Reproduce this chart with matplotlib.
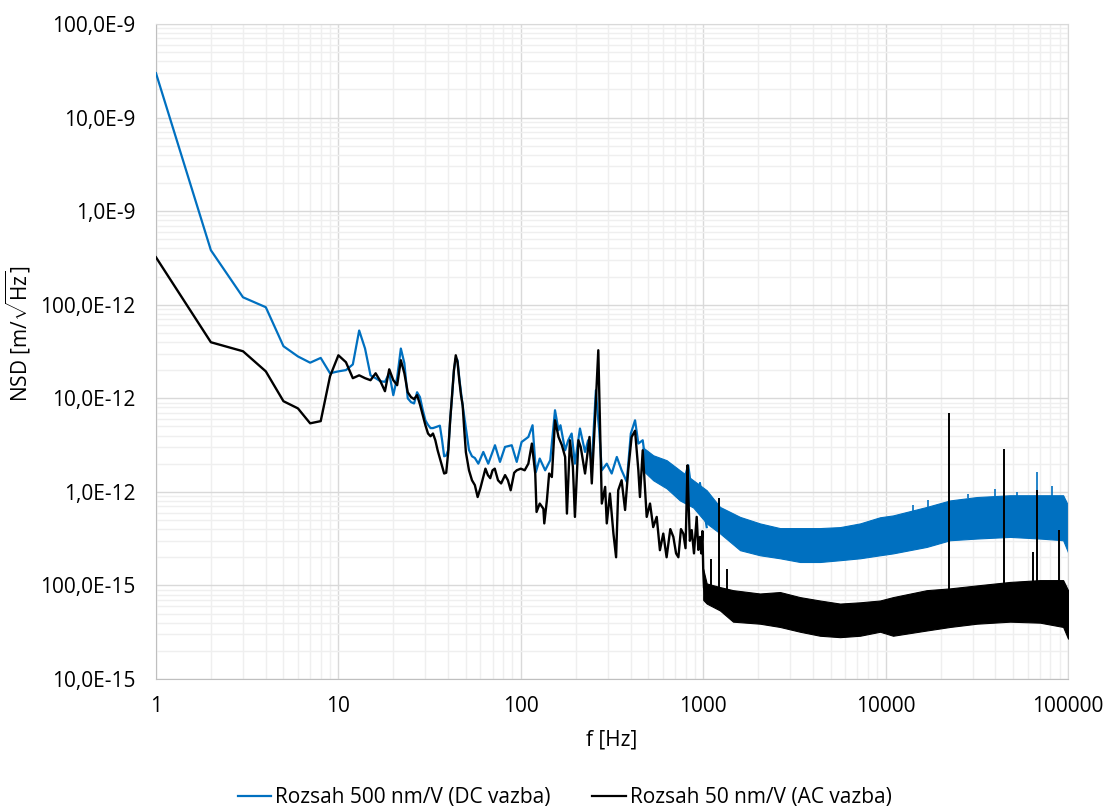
import matplotlib.pyplot as plt
from matplotlib.lines import Line2D
from matplotlib.ticker import LogLocator, NullFormatter

plt.rcParams['font.family'] = ['Open Sans', 'DejaVu Sans']
plt.rcParams['mathtext.fontset'] = 'custom'
plt.rcParams['mathtext.rm'] = 'Open Sans'

PM = 1e-12  # values below are in pm/sqrt(Hz)

BLUE = '#0070C0'
BLACK = '#000000'
FS = 15

# DC coupling, 500 nm/V range - resolved part of the spectrum
dc_f = [1, 2, 3, 4, 5, 6, 7, 8, 9, 10, 11, 12, 13, 14, 15, 16, 17, 18, 19, 20,
        21, 22, 23, 24, 25, 26, 27, 28, 29, 30, 31, 32, 33, 34, 35, 36, 37, 38, 39, 40,
        41, 42, 43, 44, 45, 46, 47, 48, 50, 52, 54, 56,
        58.5, 62.3, 66.3, 72.2, 76.9, 81.9, 89.2, 95, 101, 110,
        116, 121, 127, 136, 145, 154, 161, 165, 175, 182, 190, 198,
        211, 225, 234, 245, 258, 263, 269, 278, 296, 315,
        336, 357, 381, 401, 423, 441, 466, 490, 532, 579,
        630, 700, 745, 828, 882, 960, 1045]
dc_nsd = [29800, 382, 120, 94, 36, 28, 24, 27, 18.5, 19.4,
          20, 23, 53, 34, 17.6, 16.4, 15.2, 15, 18.5, 10.8,
          16.7, 34, 23.7, 10, 9.1, 8.8, 11.6, 10.3, 7.5, 5.8,
          5.2, 4.8, 4.8, 4.9, 5.0, 5.1, 3.6, 2.4, 2.45, 2.8,
          5.8, 10.5, 20, 26.8, 25.5, 16.4, 11.6, 8.4, 4.8, 2.8, 2.4, 2.3,
          2.0, 2.67, 2.0, 3.15, 2.09, 3.02, 3.15, 2.09, 3.41, 3.86,
          5.15, 1.63, 2.27, 1.70, 2.18, 7.45, 4.55, 5.15, 2.78, 3.56, 4.2, 2.0,
          4.75, 2.67, 3.56, 2.0, 12.2, 7.45, 4.55, 1.70, 2.0, 1.57,
          2.36, 1.70, 1.28, 4.2, 5.82, 3.28, 3.56, 1.70, 2.09, 1.44,
          1.23, 1.77, 0.96, 1.92, 0.75, 1.23, 0.42]

# DC coupling - dense noise floor, min/max envelope
dc_band_f = [466, 532, 630, 745, 882, 1045, 1236, 1592, 2047, 2635, 3393,
             4366, 5623, 7240, 9315, 10980, 16800, 22540, 31600, 48100, 70200,
             94000, 100000]
dc_band_hi = [3.0, 2.46, 2.18, 1.70, 1.33, 1.04, 0.69, 0.54, 0.46, 0.41, 0.41,
              0.41, 0.42, 0.46, 0.535, 0.56, 0.69, 0.81, 0.88, 0.92, 0.92,
              0.92, 0.72]
dc_band_lo = [1.70, 1.33, 1.09, 0.81, 0.68, 0.46, 0.36, 0.238, 0.21, 0.195, 0.178,
              0.178, 0.186, 0.195, 0.21, 0.22, 0.258, 0.304, 0.317, 0.33, 0.317,
              0.304, 0.226]

dc_spike_f = [960, 1225, 14190, 17150, 28400, 39800, 52300, 67300, 81400]
dc_spike_lo = [0.9, 0.6, 0.6, 0.65, 0.85, 0.9, 0.9, 0.9, 0.9]
dc_spike_hi = [1.28, 0.85, 0.72, 0.81, 0.96, 1.06, 1.0, 1.63, 1.15]

# AC coupling, 50 nm/V range - resolved part of the spectrum
ac_f = [1, 2, 3, 4, 5, 6, 7, 8, 9, 10, 11, 12, 13, 14, 15, 16, 17, 18, 19, 20,
        21, 22, 23, 24, 25, 26, 27, 28, 29, 30, 31, 32, 33, 34, 35, 36, 37, 38, 39, 40,
        41, 42, 43, 44, 45, 46, 47, 48, 49, 50,
        52, 54, 56, 58, 60, 62, 64, 66, 68, 70, 72, 75, 78, 82, 85, 88, 92, 95, 100, 105, 110,
        115, 120, 122, 127, 133, 134.5, 139, 143, 148, 154,
        161, 168, 175, 179, 186, 193, 198, 207, 213, 225,
        238, 245, 255, 266, 272, 278, 290, 296, 308, 322,
        333, 342, 357, 373, 388, 405, 423, 441, 450, 466,
        490, 511, 532, 556, 579, 604, 630, 660, 686, 710,
        731, 755, 778, 800, 820, 828, 845, 865, 890, 921,
        940, 960, 975, 990, 1000, 1010, 1030]
ac_nsd = [321, 39.7, 31.8, 19.4, 9.3, 7.8, 5.4, 5.7, 17.2, 28.8,
          24.3, 16.4, 17.6, 16.4, 15.6, 18.5, 15.2, 11.9, 20.4, 15.6,
          13.8, 25.5, 18.5, 11.6, 10.3, 9.8, 10.8, 8.6, 6.6, 5.15,
          4.2, 3.93, 4.2, 3.56, 2.78, 2.28, 1.87, 1.57, 1.6, 2.65,
          5.82, 10.8, 20, 28.8, 24.3, 15.6, 10.8, 8.4, 4.55, 2.65,
          1.70, 1.33, 1.18, 0.88, 1.09, 1.40, 1.77, 1.51, 1.40, 1.70,
          1.77, 1.33, 1.23, 1.51, 1.33, 1.04, 1.6, 1.70, 1.77, 1.70, 2.0,
          3.28, 1.57, 0.61, 0.75, 0.66, 0.46, 0.81, 1.57, 1.44, 5.82,
          3.86, 3.15, 2.36, 0.586, 3.56, 1.85, 0.54, 3.56, 3.02, 1.57,
          3.86, 1.23, 5.82, 32.6, 4.94, 0.75, 1.13, 0.46, 0.96, 0.358,
          0.20, 1.04, 1.33, 0.64, 1.70, 3.86, 4.5, 1.70, 0.88, 2.78,
          0.54, 0.75, 0.42, 0.54, 0.238, 0.358, 0.20, 0.40, 0.33, 0.22,
          0.20, 0.40, 0.358, 0.25, 1.92, 0.96, 0.30, 0.39, 0.22, 0.54,
          0.24, 0.33, 0.22, 0.38, 0.15, 0.095, 0.08]

# AC coupling - dense noise floor, min/max envelope
ac_band_f = [1000, 1045, 1236, 1457, 2047, 2635, 3393, 4366, 5623, 7240, 9315,
             10980, 16800, 22540, 31600, 48100, 70200, 94000, 100000]
ac_band_hi = [0.15, 0.105, 0.096, 0.089, 0.082, 0.085, 0.075, 0.069, 0.064, 0.066, 0.069,
              0.075, 0.089, 0.093, 0.10, 0.109, 0.114, 0.114, 0.089]
ac_band_lo = [0.07, 0.064, 0.054, 0.041, 0.039, 0.036, 0.032, 0.029, 0.028, 0.029, 0.032,
              0.029, 0.033, 0.036, 0.039, 0.041, 0.040, 0.036, 0.027]

ac_spike_f = [1100, 1225, 1350, 22350, 44700, 64500, 67300, 89600]
ac_spike_lo = [0.08, 0.08, 0.07, 0.09, 0.10, 0.11, 0.11, 0.11]
ac_spike_hi = [0.19, 0.85, 0.15, 6.97, 2.9, 0.228, 1.04, 0.39]

y_ticks = [1e-14, 1e-13, 1e-12, 1e-11, 1e-10, 1e-9, 1e-8, 1e-7]
y_labels = ['10,0E-15', '100,0E-15', '1,0E-12', '10,0E-12', '100,0E-12',
            '1,0E-9', '10,0E-9', '100,0E-9']
x_ticks = [1, 10, 100, 1000, 10000, 100000]
x_labels = ['1', '10', '100', '1000', '10000', '100000']


def pm(vals):
    return [v * PM for v in vals]


fig = plt.figure(figsize=(11.07, 8.07), dpi=100)
ax = fig.add_axes([0.1409, 0.1586, 0.8239, 0.8117])
ax.set_xscale('log')
ax.set_yscale('log')
ax.set_xlim(1, 100000)
ax.set_ylim(1e-14, 1e-7)

# DC coupling
ax.fill_between(dc_band_f, pm(dc_band_lo), pm(dc_band_hi), color=BLUE, lw=0.8, zorder=2)
ax.plot(dc_f, pm(dc_nsd), color=BLUE, lw=1.6, zorder=3)
ax.vlines(dc_spike_f, pm(dc_spike_lo), pm(dc_spike_hi), color=BLUE, lw=1.2, zorder=3)

# AC coupling
ax.plot(ac_f, pm(ac_nsd), color=BLACK, lw=1.7, zorder=4)
ax.fill_between(ac_band_f, pm(ac_band_lo), pm(ac_band_hi), color=BLACK, lw=0.8, zorder=4)
ax.vlines(ac_spike_f, pm(ac_spike_lo), pm(ac_spike_hi), color=BLACK, lw=1.4, zorder=5)

ax.set_xticks(x_ticks)
ax.set_xticklabels(x_labels)
ax.set_yticks(y_ticks)
ax.set_yticklabels(y_labels)
for axis in (ax.xaxis, ax.yaxis):
    axis.set_minor_locator(LogLocator(base=10, subs=range(2, 10), numticks=20))
    axis.set_minor_formatter(NullFormatter())
ax.tick_params(which='both', length=0, labelsize=FS, colors='#000000')
ax.tick_params(axis='x', pad=12)
ax.tick_params(axis='y', pad=15)

ax.grid(True, which='major', color='#d9d9d9', lw=1.0, zorder=0)
ax.grid(True, which='minor', color='#efefef', lw=1.0, zorder=0)
ax.set_axisbelow(True)
for side in ('top', 'right'):
    ax.spines[side].set_color('#d9d9d9')
for side in ('left', 'bottom'):
    ax.spines[side].set_color('#bfbfbf')

ax.set_xlabel('f [Hz]', fontsize=FS, labelpad=9)
ax.set_ylabel(r'NSD [m/$\sqrt{\mathrm{Hz}}$]', fontsize=FS)
ax.yaxis.set_label_coords(-0.135, 0.527)

handles = [Line2D([], [], color=BLUE, lw=1.6),
           Line2D([], [], color=BLACK, lw=1.6)]
fig.legend(handles, ['Rozsah 500 nm/V (DC vazba)', 'Rozsah 50 nm/V (AC vazba)'],
           loc='lower center', bbox_to_anchor=(0.51, -0.025), ncol=2, frameon=False,
           fontsize=FS, handlelength=1.6, handletextpad=0.2, columnspacing=2.0)

fig.savefig('out.png', dpi=100)
